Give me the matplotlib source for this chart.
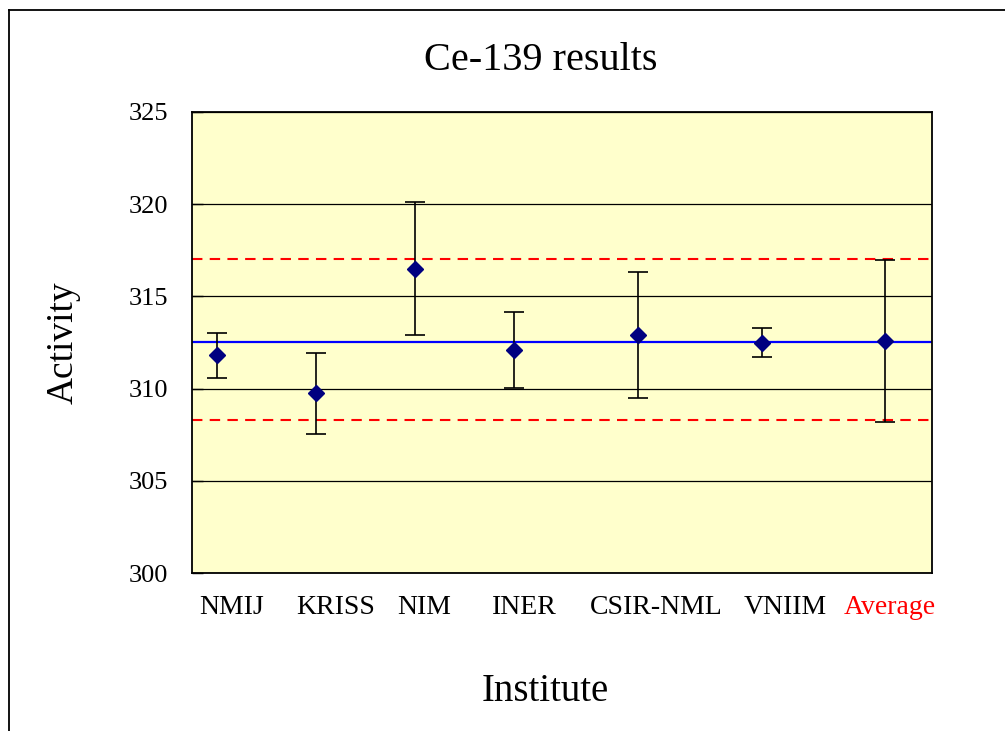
import matplotlib
matplotlib.use("Agg")
import matplotlib.pyplot as plt
from matplotlib.lines import Line2D

# ---- data ----
institutes = ["NMIJ", "KRISS", "NIM", "INER", "CSIR-NML", "VNIIM", "Average"]
x_values = [0.25, 1.25, 2.25, 3.25, 4.5, 5.75, 7.0]
activity = [311.8, 309.75, 316.5, 312.1, 312.9, 312.5, 312.57]
uncertainty = [1.2, 2.2, 3.6, 2.05, 3.4, 0.8, 4.4]
label_x = [0.40, 1.45, 2.34, 3.36, 4.69, 5.99, 7.04]
reference_value = 312.55
upper_limit = 317.03
lower_limit = 308.32
y_ticks = [300, 305, 310, 315, 320, 325]

SERIF = ["Liberation Serif", "DejaVu Serif"]

fig = plt.figure(figsize=(10.05, 7.31), dpi=100)
ax = fig.add_axes([192 / 1005, 1 - 573 / 731, 740 / 1005, 461 / 731])
ax.set_facecolor("#FFFFCC")

xlim = (0, 7.47)
ax.set_xlim(*xlim)
ax.set_ylim(300, 325)

# reference lines
ax.axhline(reference_value, color="#0000FF", lw=1.6, zorder=2)
ax.axhline(upper_limit, color="#FF0000", lw=1.5, ls=(0, (5, 3.5)), zorder=2)
ax.axhline(lower_limit, color="#FF0000", lw=1.5, ls=(0, (5, 3.5)), zorder=2)

# data points with error bars
ax.errorbar(x_values, activity, yerr=uncertainty, fmt="D", color="#000080",
            markersize=8, ecolor="black", elinewidth=1.2, capsize=7.5,
            capthick=1.2, zorder=4)

# grid
ax.set_yticks(y_ticks)
ax.set_yticklabels([str(v) for v in y_ticks], fontfamily=SERIF, fontsize=19)
ax.yaxis.grid(True, color="black", lw=0.9)
ax.set_axisbelow(True)
ax.tick_params(axis="y", direction="in", length=8, width=1, pad=17)

ax.set_xticks(label_x)
ax.set_xticklabels(institutes, fontfamily=SERIF, fontsize=20)
ax.tick_params(axis="x", length=0, pad=16)
for lbl in ax.get_xticklabels():
    if lbl.get_text() == "Average":
        lbl.set_color("#FF0000")

for s in ax.spines.values():
    s.set_color("black")
    s.set_linewidth(1.3)

ax.set_xlabel("Institute", fontfamily=SERIF, fontsize=28, labelpad=38)
ax.xaxis.label.set_x((545 - 192) / 740)
ax.set_ylabel("Activity", fontfamily=SERIF, fontsize=27, labelpad=35)
fig.text(541 / 1005, 1 - 60 / 731, "Ce-139 results", fontfamily=SERIF,
         fontsize=29, ha="center", va="center")

# outer frame
fig.add_artist(Line2D([8.5 / 1005, 8.5 / 1005], [0, 1 - 10 / 731],
                      color="black", lw=1.3, transform=fig.transFigure))
fig.add_artist(Line2D([8.5 / 1005, 1], [1 - 10 / 731, 1 - 10 / 731],
                      color="black", lw=1.3, transform=fig.transFigure))

fig.savefig("out.png", dpi=100, facecolor="white")
